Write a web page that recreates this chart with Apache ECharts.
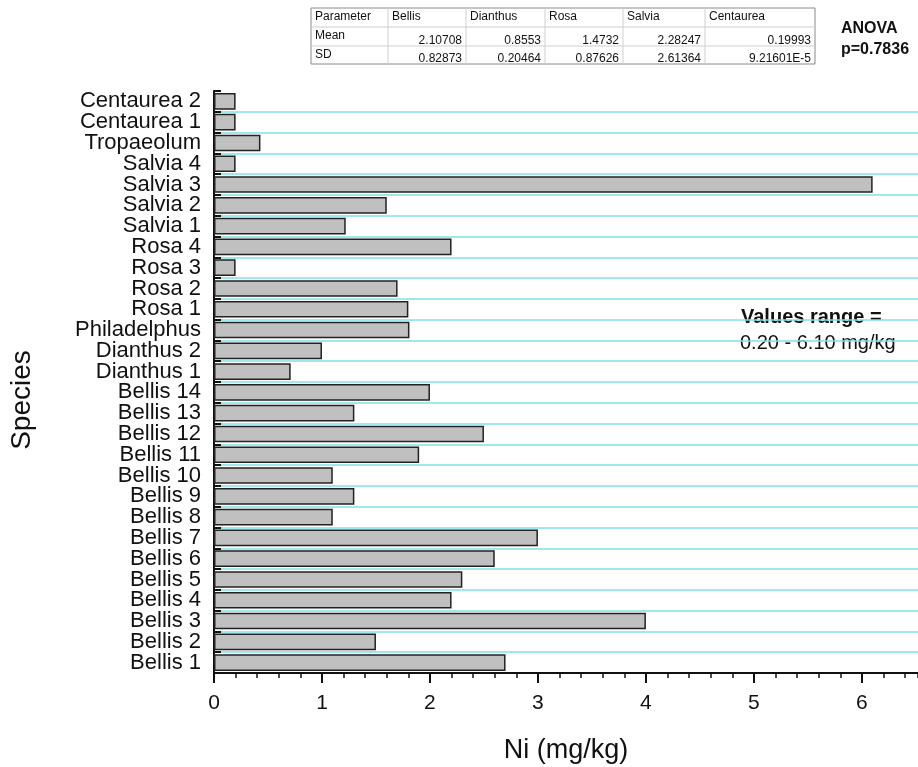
<!DOCTYPE html>
<html><head><meta charset="utf-8">
<script src="https://cdn.jsdelivr.net/npm/echarts@6/dist/echarts.min.js"></script>
<style>html,body{margin:0;padding:0;background:#fff}#c{width:918px;height:767px}</style>
</head><body><div id="c"></div>
<script>
// categories listed top to bottom
const categories = ["Centaurea 2","Centaurea 1","Tropaeolum","Salvia 4","Salvia 3","Salvia 2","Salvia 1","Rosa 4","Rosa 3","Rosa 2","Rosa 1","Philadelphus","Dianthus 2","Dianthus 1","Bellis 14","Bellis 13","Bellis 12","Bellis 11","Bellis 10","Bellis 9","Bellis 8","Bellis 7","Bellis 6","Bellis 5","Bellis 4","Bellis 3","Bellis 2","Bellis 1"];
const niValues = [0.2,0.2,0.43,0.2,6.1,1.6,1.22,2.2,0.2,1.7,1.8,1.81,1.0,0.71,2.0,1.3,2.5,1.9,1.1,1.3,1.1,3.0,2.6,2.3,2.2,4.0,1.5,2.7];
const xTicks = [0,1,2,3,4,5,6];
const tableHeader = ["Parameter","Bellis","Dianthus","Rosa","Salvia","Centaurea"];
const meanRow = ["Mean","2.10708","0.8553","1.4732","2.28247","0.19993"];
const sdRow = ["SD","0.82873","0.20464","0.87626","2.61364","9.21601E-5"];
const anovaLines = ["ANOVA","p=0.7836"];
const rangeLines = ["Values range =","0.20 - 6.10 mg/kg"];

const FONT = "Liberation Sans, Arial, sans-serif";
const chart = echarts.init(document.getElementById('c'));

const colX = [311, 388, 466, 545, 623, 705, 815];
const rowY = [8, 27, 46, 64];
const tableEls = [];
tableEls.push({type:'rect', shape:{x:colX[0], y:rowY[0], width:colX[6]-colX[0], height:rowY[3]-rowY[0]}, style:{fill:'#fff', stroke:'#8a8a8a', lineWidth:1}});
for (let i=1;i<6;i++) tableEls.push({type:'line', shape:{x1:colX[i],y1:rowY[0],x2:colX[i],y2:rowY[3]}, style:{stroke:'#cfcfcf',lineWidth:1}});
for (let j=1;j<3;j++) tableEls.push({type:'line', shape:{x1:colX[0],y1:rowY[j],x2:colX[6],y2:rowY[j]}, style:{stroke:'#cfcfcf',lineWidth:1}});
const rows = [tableHeader, meanRow, sdRow];
rows.forEach((row, r) => {
  row.forEach((txt, c) => {
    const right = r > 0 && c > 0;
    tableEls.push({type:'text', style:{
      text: txt, x: right ? colX[c+1]-4 : colX[c]+4,
      y: right ? rowY[r+1]-5 : rowY[r]+8.5,
      textAlign: right ? 'right' : 'left', textVerticalAlign:'middle',
      font: '12px ' + FONT, fill:'#111'}});
  });
});
tableEls.push({type:'text', style:{text:anovaLines[0], x:841, y:29, textVerticalAlign:'middle', font:'bold 16px '+FONT, fill:'#111'}});
tableEls.push({type:'text', style:{text:anovaLines[1], x:841, y:50, textVerticalAlign:'middle', font:'bold 16px '+FONT, fill:'#111'}});
tableEls.push({type:'text', style:{text:rangeLines[0], x:741, y:317, textVerticalAlign:'middle', font:'bold 20px '+FONT, fill:'#111'}});
tableEls.push({type:'text', style:{text:rangeLines[1], x:740, y:343, textVerticalAlign:'middle', font:'20px '+FONT, fill:'#111'}});

const XMAX = 6.52;
chart.setOption({
  animation:false,
  backgroundColor:'#fff',
  grid:{left:214, right:0, top:91, bottom:94, containLabel:false, outerBoundsMode:'none'},
  xAxis:[{
    type:'value', min:0, max:XMAX, interval:1, position:'bottom',
    name:'Ni (mg/kg)', nameLocation:'middle', nameGap:64,
    nameTextStyle:{fontSize:27, color:'#111', fontFamily:FONT},
    axisLine:{show:true, onZero:false, lineStyle:{color:'#111', width:2}},
    axisTick:{show:true, length:10, lineStyle:{color:'#111', width:2}},
    axisLabel:{fontSize:21, color:'#111', fontFamily:FONT, margin:20, showMaxLabel:false,
      formatter: v => xTicks.indexOf(v) >= 0 ? String(v) : ''},
    splitLine:{show:false}
  },{
    type:'value', min:0, max:XMAX, interval:0.2, position:'bottom',
    axisLine:{show:false, onZero:false},
    axisTick:{show:true, length:5, lineStyle:{color:'#111', width:1.5}},
    axisLabel:{show:false}, splitLine:{show:false}
  }],
  yAxis:{
    type:'category', data:categories, inverse:true,
    name:'Species', nameLocation:'middle', nameGap:178, nameRotate:90,
    nameTextStyle:{fontSize:28, color:'#111', fontFamily:FONT, padding:[0,36,0,0]},
    axisLine:{show:true, lineStyle:{color:'#111', width:2}},
    axisTick:{show:true, inside:true, length:7, interval:0, lineStyle:{color:'#111', width:2}},
    axisLabel:{fontSize:22, color:'#111', fontFamily:FONT, margin:13, interval:0},
    splitLine:{show:true, interval:(i) => i !== 0, lineStyle:{color:'#7fe0ea', width:1.5}}
  },
  series:[{
    type:'bar', xAxisIndex:0, data:niValues, barCategoryGap:'20%',
    itemStyle:{color:'#c0c0c0', borderColor:'#222', borderWidth:1.5}
  }],
  graphic:tableEls
});
</script></body></html>
